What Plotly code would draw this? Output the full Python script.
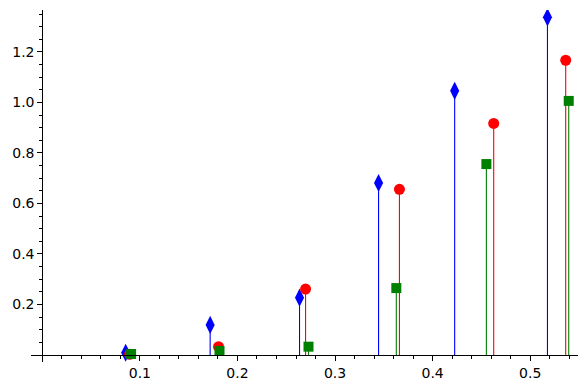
import plotly.graph_objects as go

# stem plot data
blue_x = [0.0854, 0.172, 0.2636, 0.3446, 0.4226, 0.5177]
blue_y = [0.009, 0.119, 0.227, 0.681, 1.046, 1.337]

red_x = [0.0895, 0.1806, 0.2698, 0.366, 0.4626, 0.5364]
red_y = [0.003, 0.033, 0.261, 0.656, 0.917, 1.167]

green_x = [0.091, 0.1816, 0.2728, 0.3628, 0.4551, 0.5395]
green_y = [0.004, 0.016, 0.033, 0.265, 0.756, 1.006]

x_ticks = [0, 0.1, 0.2, 0.3, 0.4, 0.5]
x_labels = ['', '0.1', '0.2', '0.3', '0.4', '0.5']
y_ticks = [0, 0.2, 0.4, 0.6, 0.8, 1.0, 1.2]
y_labels = ['', '0.2', '0.4', '0.6', '0.8', '1.0', '1.2']

series = [
    (blue_x, blue_y, '#0000ff', 'diamond-tall', 13),
    (red_x, red_y, '#ff0000', 'circle', 11),
    (green_x, green_y, '#008000', 'square', 10),
]

x_range = [-0.0116, 0.549]
y_range = [-0.0277, 1.366]


def stems(xs, ys):
    sx, sy = [], []
    for x, y in zip(xs, ys):
        sx += [x, x, None]
        sy += [0, y, None]
    return sx, sy


fig = go.Figure()
for xs, ys, color, symbol, size in series:
    sx, sy = stems(xs, ys)
    fig.add_trace(go.Scatter(x=sx, y=sy, mode='lines',
                             line=dict(color=color, width=1.1),
                             hoverinfo='skip', showlegend=False))
    fig.add_trace(go.Scatter(x=xs, y=ys, mode='markers',
                             marker=dict(color=color, symbol=symbol, size=size,
                                         line=dict(width=0)),
                             showlegend=False))

axis_common = dict(
    showgrid=False, zeroline=False, showline=True, linecolor='black', linewidth=1,
    ticks='outside', ticklen=5, tickwidth=1, tickcolor='black',
    tickfont=dict(family='DejaVu Sans', size=14, color='black'),
    anchor='free', automargin=False,
)

# page body has an 8px margin, so the figure is a bit smaller than the window
fig.update_layout(
    width=572, height=373,
    margin=dict(l=23, r=2, t=2, b=19),
    plot_bgcolor='white', paper_bgcolor='white',
    xaxis=dict(range=x_range, tickvals=x_ticks, ticktext=x_labels,
               position=(0 - y_range[0]) / (y_range[1] - y_range[0]),
               minor=dict(dtick=0.02, tick0=0, ticks='outside', ticklen=3,
                          tickcolor='black', showgrid=False),
               **axis_common),
    yaxis=dict(range=y_range, tickvals=y_ticks, ticktext=y_labels,
               position=(0 - x_range[0]) / (x_range[1] - x_range[0]),
               minor=dict(dtick=0.05, tick0=0, ticks='outside', ticklen=3,
                          tickcolor='black', showgrid=False),
               **axis_common),
)

fig.write_html("out.html")
